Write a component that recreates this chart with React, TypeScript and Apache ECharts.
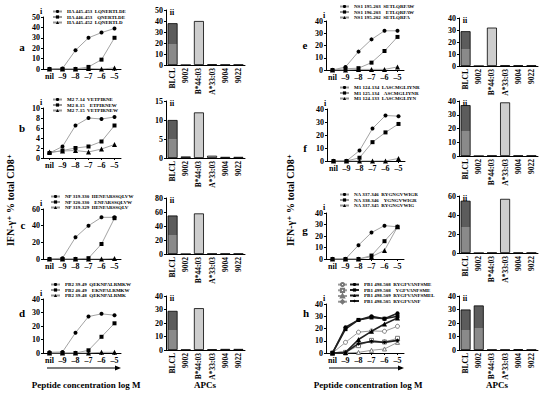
import React, { useEffect, useRef } from 'react';
import * as echarts from 'echarts';

const doses = ['nil', '–9', '–8', '–7', '–6', '–5'];
const apcs = ['BLCL', '9002', 'B*44:03', 'A*33:03', '9004', '9022'];

const haNames = ['HA 445-453  LQNERTLDE', 'HA 446-453    QNERTLDE', 'HA 445-452  LQNERTLD'];
const haValues = [[0, 0.5, 18, 30, 35, 39], [0, 0, 0, 2, 9, 30], [0, 0, 0, 0.5, 0, 1]];
const haBars = [38, 0, 40, 0.6, 0.3, 0.3];

const m2Names = ['M2 7-14  VETPIRNE', 'M2 8-15    ETPIRNEW', 'M2 7-15  VETPIRNEW'];
const m2Values = [[1, 2.3, 6.5, 8, 7.8, 8.2], [1, 1.5, 2, 2.3, 3.3, 6.5], [1.2, 1.4, 1.5, 1.2, 1.8, 2.7]];
const m2Bars = [10, 0.4, 12, 0.6, 0.3, 0.3];

const npNames = ['NP 319-330  HENFARSSQLVW', 'NP 320-330    ENFARSSQLVW', 'NP 319-329  HENFARSSQLV'];
const npValues = [[0, 1, 26, 40, 50, 50], [0, 0, 0, 1, 18, 49], [0, 0, 0, 0, 0, 0.5]];
const npBars = [55, 0, 58, 0.5, 0.5, 0.5];

const pb2Names = ['PB2 39-49  QEKNPALRMKW', 'PB2 40-49    EKNPALRMKW', 'PB2 39-48  QEKNPALRMK'];
const pb2Values = [[0.5, 0.8, 15, 27, 29, 28], [0, 0, 0, 2, 12, 22], [0, 0, 0, 0, 0.5, 0.5]];
const pb2Bars = [29, 0.3, 31, 0.5, 0.8, 0.8];

const ns1Names = ['NS1 195-203  SETLQRFAW', 'NS1 196-203    ETLQRFAW', 'NS1 195-202  SETLQRFA'];
const ns1Values = [[0, 2.5, 15, 25, 32, 32], [0, 1, 1.5, 6, 15.5, 27], [0, 0, 0.5, 0.5, 0.5, 2.5]];
const ns1Bars = [29, 0, 32, 0.5, 0.5, 0.5];

const m1Names = ['M1 124-134  LASCMGLIYNR', 'M1 125-134    ASCMGLIYNR', 'M1 124-133  LASCMGLIYN'];
const m1Values = [[0, 0, 8, 25, 35, 34.5], [0, 0, 2.5, 14.5, 22, 28.5], [0, 0, 0, 0, 0, 2]];
const m1Bars = [37, 0, 0.3, 39, 0.3, 0.3];

const naNames = ['NA 337-346  RYGNGVWIGR', 'NA 338-346    YGNGVWIGR', 'NA 337-345  RYGNGVWIG'];
const naValues = [[0, 0, 12, 23, 29, 28], [0, 0, 0, 3, 15.5, 28], [0, 0, 0, 2, 7.5, 28]];
const naBars = [55, 0, 0.3, 57, 0.3, 0.3];

const pb1Names = ['PB1 498-508  RYGFVANFSME', 'PB1 499-508    YGFVANFSME', 'PB1 498-509  RYGFVANFSMEL', 'PB1 498-505  RYGFVANF'];
const pb1Values = [[0, 21, 27, 30, 28, 32.5], [0, 19.5, 27, 29, 28, 30], [0, 0.5, 11, 17.7, 23.7, 28.6], [0, 0.5, 7.6, 9.5, 8.7, 10.3]];
const pb1GreyValues = [[0, 8.7, 17, 18, 17.7, 21.8], [0, 0.5, 6, 10.3, 9, 12], [0, 0, 0.5, 2.2, 3.3, 8.7], [0, 0.5, 8, 9, 9.5, 10]];
const pb1Bars = [30, 33, 0.3, 0.3, 0.6, 0.3];

const FONT = '"Liberation Serif", "DejaVu Serif", serif';
const SYMBOLS = ['circle', 'rect', 'triangle', 'diamond'];

type Panel = {
  letter: string; names: string[]; values: number[][]; grey?: number[][]; bars: number[];
  line: [number, number, number]; lineMax: number; lineInt: number;
  bar: [number, number, number]; barMax: number; barInt: number;
  legend: [number, number]; letterPos: [number, number];
};

const panels: Panel[] = [
  { letter: 'a', names: haNames, values: haValues, bars: haBars, line: [43, 17, 52], lineMax: 50, lineInt: 10, bar: [166, 10, 55], barMax: 50, barInt: 10, legend: [52, 9], letterPos: [22, 47] },
  { letter: 'b', names: m2Names, values: m2Values, bars: m2Bars, line: [43, 108, 50], lineMax: 10, lineInt: 2, bar: [166, 101, 57], barMax: 15, barInt: 5, legend: [52, 97], letterPos: [22, 128] },
  { letter: 'c', names: npNames, values: npValues, bars: npBars, line: [43, 209, 50], lineMax: 60, lineInt: 20, bar: [166, 198, 56], barMax: 80, barInt: 20, legend: [50, 194], letterPos: [23, 225] },
  { letter: 'd', names: pb2Names, values: pb2Values, bars: pb2Bars, line: [43, 299, 54], lineMax: 40, lineInt: 10, bar: [166, 296, 54], barMax: 40, barInt: 10, legend: [50, 282], letterPos: [22, 313] },
  { letter: 'e', names: ns1Names, values: ns1Values, bars: ns1Bars, line: [326, 21, 49], lineMax: 40, lineInt: 10, bar: [459, 18, 48], barMax: 40, barInt: 10, legend: [339, 4], letterPos: [305, 45] },
  { letter: 'f', names: m1Names, values: m1Values, bars: m1Bars, line: [327, 109, 52], lineMax: 40, lineInt: 10, bar: [459, 101, 55], barMax: 40, barInt: 10, legend: [339, 85], letterPos: [305, 148] },
  { letter: 'g', names: naNames, values: naValues, bars: naBars, line: [326, 213, 46], lineMax: 40, lineInt: 10, bar: [459, 196, 57], barMax: 60, barInt: 20, legend: [339, 192], letterPos: [305, 230] },
  { letter: 'h', names: pb1Names, values: pb1Values, grey: pb1GreyValues, bars: pb1Bars, line: [326, 304, 49], lineMax: 40, lineInt: 10, bar: [459, 296, 54], barMax: 40, barInt: 10, legend: [349, 282], letterPos: [306, 313] },
];

const tickLabel = { fontSize: 8, fontWeight: 'bold' as const, color: '#000', fontFamily: FONT };
const axisLine = { show: true, lineStyle: { color: '#000', width: 1 } };

function buildOption() {
  const grid: any[] = [];
  const xAxis: any[] = [];
  const yAxis: any[] = [];
  const series: any[] = [];
  const legend: any[] = [];
  const graphic: any[] = [];

  const dark = new echarts.graphic.LinearGradient(0, 0, 0, 1, [
    { offset: 0, color: '#5c5c5c' }, { offset: 0.5, color: '#5c5c5c' },
    { offset: 0.5, color: '#8a8a8a' }, { offset: 1, color: '#8a8a8a' },
  ]);
  const light = '#cdcdcd';
  const barColors = [dark, dark, light, light, light, light];

  panels.forEach((p) => {
    const gi = grid.length;
    grid.push({ left: p.line[0], top: p.line[1], width: 78, height: p.line[2] });
    xAxis.push({
      type: 'category', gridIndex: gi, data: doses, boundaryGap: true,
      axisLine, axisTick: { show: true, length: 2, alignWithLabel: true, lineStyle: { color: '#000' } },
      axisLabel: { ...tickLabel, margin: 3, interval: 0 },
    });
    yAxis.push({
      type: 'value', gridIndex: gi, min: 0, max: p.lineMax, interval: p.lineInt,
      splitLine: { show: false }, axisLine, axisTick: { show: true, length: 2, lineStyle: { color: '#000' } },
      axisLabel: { ...tickLabel, margin: 3 },
    });
    p.values.forEach((vals, k) => {
      series.push({
        type: 'line', name: p.names[k], xAxisIndex: gi, yAxisIndex: gi, data: vals,
        symbol: SYMBOLS[k], symbolSize: k === 2 ? 5 : 4, z: 3,
        lineStyle: { color: p.grey ? '#222' : '#999', width: p.grey ? 1.6 : 0.9 },
        itemStyle: { color: '#000' },
      });
    });
    if (p.grey) {
      p.grey.forEach((vals, k) => {
        series.push({
          type: 'line', name: p.names[k] + ' (ii)', xAxisIndex: gi, yAxisIndex: gi, data: vals,
          symbol: SYMBOLS[k], symbolSize: 4, z: 2,
          lineStyle: { color: '#9a9a9a', width: 1 },
          itemStyle: { color: '#fff', borderColor: '#777', borderWidth: 1 },
        });
      });
      legend.push({
        orient: 'vertical', left: p.legend[0] - 12, top: p.legend[1], padding: 0, itemGap: 0.5,
        itemWidth: 9, itemHeight: 4, data: p.names.map((n) => n + ' (ii)'), formatter: () => '',
        textStyle: { fontSize: 5, fontFamily: FONT, fontWeight: 'bold', color: '#000' },
        selectedMode: false,
      });
    }
    legend.push({
      orient: 'vertical', left: p.legend[0], top: p.legend[1], padding: 0, itemGap: 0.5,
      itemWidth: 9, itemHeight: 4, data: p.names,
      textStyle: { fontSize: 5, fontFamily: FONT, fontWeight: 'bold', color: '#000' },
      selectedMode: false,
    });

    const bi = grid.length;
    grid.push({ left: p.bar[0], top: p.bar[1], width: 79, height: p.bar[2] });
    xAxis.push({
      type: 'category', gridIndex: bi, data: apcs, boundaryGap: true,
      axisLine, axisTick: { show: false },
      axisLabel: { ...tickLabel, fontSize: 7.5, rotate: 90, margin: 3, interval: 0 },
    });
    yAxis.push({
      type: 'value', gridIndex: bi, min: 0, max: p.barMax, interval: p.barInt,
      splitLine: { show: false }, axisLine, axisTick: { show: true, length: 2, lineStyle: { color: '#000' } },
      axisLabel: { ...tickLabel, margin: 3 },
    });
    series.push({
      type: 'bar', name: p.letter + ' APCs', xAxisIndex: bi, yAxisIndex: bi, barWidth: 10,
      data: p.bars.map((v, k) => ({ value: v, itemStyle: { color: barColors[k] } })),
      itemStyle: { borderColor: '#000', borderWidth: 0.8 },
    });

    graphic.push({ type: 'text', x: p.letterPos[0], y: p.letterPos[1], style: { text: p.letter, font: `bold 11px ${FONT}`, fill: '#000', textAlign: 'center', textVerticalAlign: 'middle' } });
    graphic.push({ type: 'text', x: p.line[0] - 2, y: p.line[1] - 6, style: { text: 'i', font: `bold 8px ${FONT}`, fill: '#000', textAlign: 'center', textVerticalAlign: 'middle' } });
    graphic.push({ type: 'text', x: p.bar[0] + 6, y: p.bar[1] + 2, style: { text: 'ii', font: `bold 8px ${FONT}`, fill: '#000', textAlign: 'center', textVerticalAlign: 'middle' } });
  });

  const title = (text: string, x: number, y: number, rot = 0, size = 9) => ({
    type: 'text', x, y, rotation: rot,
    style: { text, font: `bold ${size}px ${FONT}`, fill: '#000', textAlign: 'center', textVerticalAlign: 'middle' },
  });
  graphic.push(title('IFN-γ⁺ % total CD8⁺', 10, 200, Math.PI / 2, 10));
  graphic.push(title('IFN-γ⁺ % total CD8⁺', 290, 200, Math.PI / 2, 10));
  graphic.push(title('Peptide concentration log M', 86, 385));
  graphic.push(title('APCs', 205, 385));
  graphic.push(title('Peptide concentration log M', 368, 385));
  graphic.push(title('APCs', 497, 385));
  const arrow = (x0: number, x1: number, y: number) => [
    { type: 'line', shape: { x1: x0, y1: y, x2: x1 - 4, y2: y }, style: { stroke: '#000', lineWidth: 1.2 } },
    { type: 'polygon', shape: { points: [[x1, y], [x1 - 6, y - 2.5], [x1 - 6, y + 2.5]] }, style: { fill: '#000' } },
  ];
  graphic.push(...arrow(47, 121, 368));
  graphic.push(...arrow(329, 404, 368));

  return { animation: false, backgroundColor: '#fff', grid, xAxis, yAxis, series, legend, graphic };
}

export default function App() {
  const ref = useRef<HTMLDivElement>(null);
  useEffect(() => {
    const chart = echarts.init(ref.current!, undefined, { renderer: 'svg' });
    chart.setOption(buildOption() as any);
    return () => chart.dispose();
  }, []);
  return <div ref={ref} style={{ position: 'fixed', left: 0, top: 0, width: 550, height: 399 }} />;
}
